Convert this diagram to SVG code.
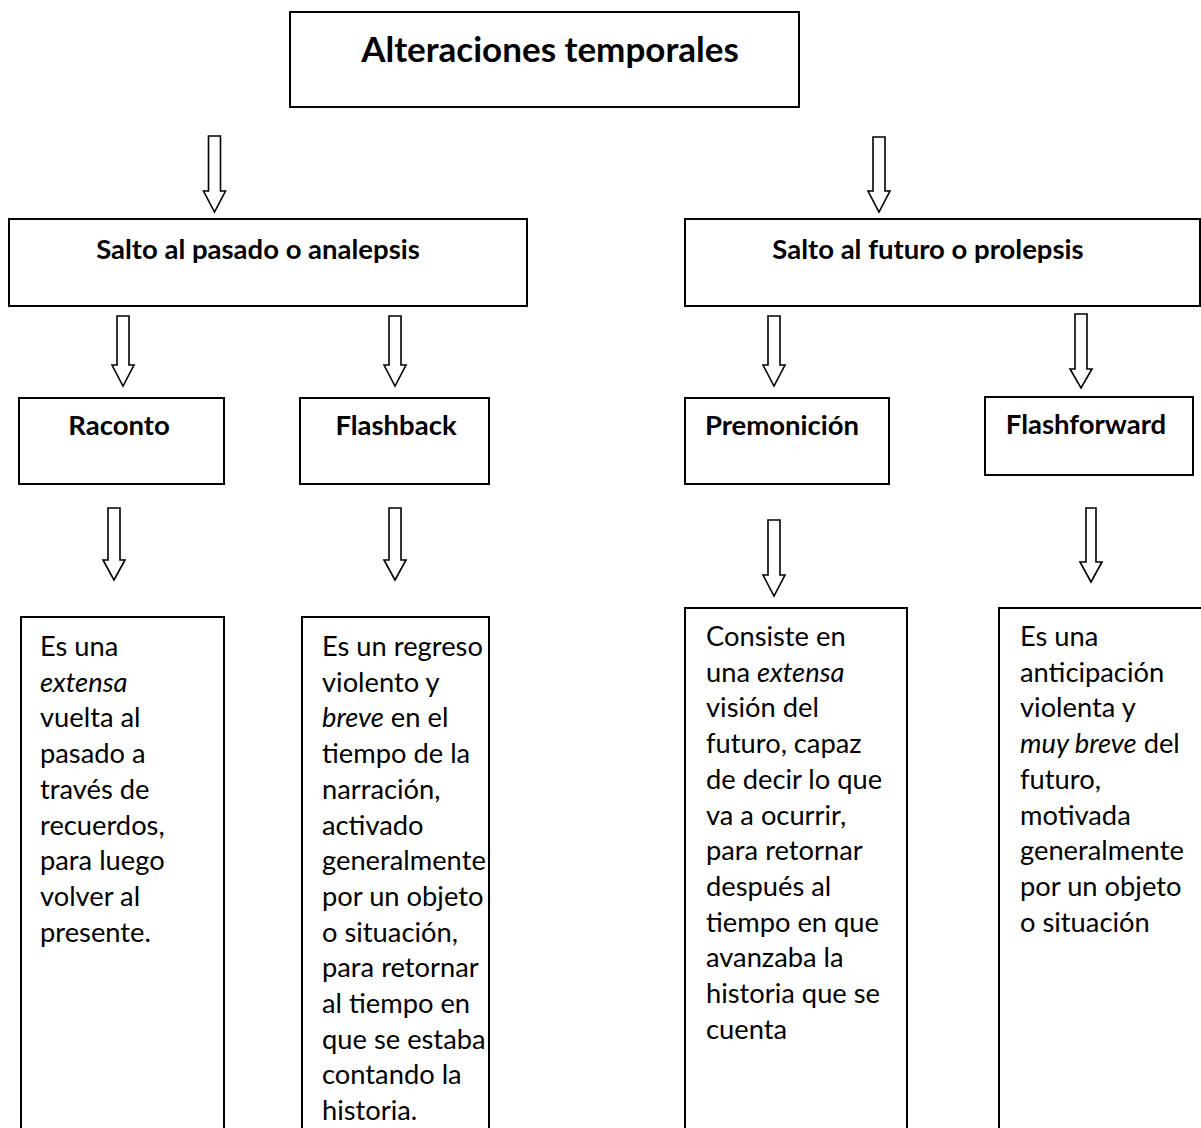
<svg xmlns="http://www.w3.org/2000/svg" width="1201" height="1128" viewBox="0 0 1201 1128">
<style>
.box{fill:#fff;stroke:#000;stroke-width:2}
.arr{fill:#fff;stroke:#000;stroke-width:1.6;stroke-linejoin:miter}
.t{font-family:Lato,"Open Sans",sans-serif;fill:#000}
.h1{font-size:35px;font-weight:bold;text-anchor:middle}
.h2{font-size:27.5px;font-weight:bold;text-anchor:middle}
.d{font-size:27.3px}
</style>
<rect width="1201" height="1128" fill="#fff"/>
<g id="connectors">
<polygon class="arr" points="208.5,136 220.5,136 220.5,191 225.5,191 214.5,212 203.5,191 208.5,191"/>
<polygon class="arr" points="873,137 885,137 885,191 890,191 879,212 868,191 873,191"/>
<polygon class="arr" points="117,316 129,316 129,365 134,365 123,386 112,365 117,365"/>
<polygon class="arr" points="389,316 401,316 401,365 406,365 395,386 384,365 389,365"/>
<polygon class="arr" points="768,316 780,316 780,365 785,365 774,386 763,365 768,365"/>
<polygon class="arr" points="1075,314 1087,314 1087,369 1092,369 1081,388 1070,369 1075,369"/>
<polygon class="arr" points="108,508 120,508 120,560 125,560 114,580 103,560 108,560"/>
<polygon class="arr" points="389,508 401,508 401,560 406,560 395,580 384,560 389,560"/>
<polygon class="arr" points="768,520 780,520 780,575 785,575 774,596 763,575 768,575"/>
<polygon class="arr" points="1086,508 1096,508 1096,562 1102,562 1091,582 1080,562 1086,562"/>
</g>
<g id="n-root">
<rect class="box" x="290" y="12" width="509" height="95"/>
<text class="t h1" x="550" y="62">Alteraciones temporales</text>
</g>
<g id="n-pasado">
<rect class="box" x="9" y="219" width="518" height="87"/>
<text class="t h2" x="258" y="259">Salto al pasado o analepsis</text>
</g>
<g id="n-futuro">
<rect class="box" x="685" y="219" width="515" height="87"/>
<text class="t h2" x="928" y="259">Salto al futuro o prolepsis</text>
</g>
<g id="n-raconto">
<rect class="box" x="19" y="398" width="205" height="86"/>
<text class="t h2" x="119" y="435">Raconto</text>
</g>
<g id="n-flashback">
<rect class="box" x="300" y="398" width="189" height="86"/>
<text class="t h2" x="396" y="435">Flashback</text>
</g>
<g id="n-premonicion">
<rect class="box" x="685" y="398" width="204" height="86"/>
<text class="t h2" x="782" y="435">Premonición</text>
</g>
<g id="n-flashforward">
<rect class="box" x="985" y="397" width="208" height="78"/>
<text class="t h2" x="1086" y="434">Flashforward</text>
</g>
<g id="n-raconto-desc">
<rect class="box" x="21" y="617" width="203" height="520"/>
<text class="t d">
<tspan x="40" y="656">Es una</tspan>
<tspan x="40" dy="35.7" font-style="italic">extensa</tspan>
<tspan x="40" dy="35.7">vuelta al</tspan>
<tspan x="40" dy="35.7">pasado a</tspan>
<tspan x="40" dy="35.7">través de</tspan>
<tspan x="40" dy="35.7">recuerdos,</tspan>
<tspan x="40" dy="35.7">para luego</tspan>
<tspan x="40" dy="35.7">volver al</tspan>
<tspan x="40" dy="35.7">presente.</tspan>
</text>
</g>
<g id="n-flashback-desc">
<rect class="box" x="302" y="617" width="187" height="520"/>
<text class="t d">
<tspan x="322" y="656">Es un regreso</tspan>
<tspan x="322" dy="35.7">violento y</tspan>
<tspan x="322" dy="35.7"><tspan font-style="italic">breve</tspan> en el</tspan>
<tspan x="322" dy="35.7">tiempo de la</tspan>
<tspan x="322" dy="35.7">narración,</tspan>
<tspan x="322" dy="35.7">activado</tspan>
<tspan x="322" dy="35.7">generalmente</tspan>
<tspan x="322" dy="35.7">por un objeto</tspan>
<tspan x="322" dy="35.7">o situación,</tspan>
<tspan x="322" dy="35.7">para retornar</tspan>
<tspan x="322" dy="35.7">al tiempo en</tspan>
<tspan x="322" dy="35.7">que se estaba</tspan>
<tspan x="322" dy="35.7">contando la</tspan>
<tspan x="322" dy="35.7">historia.</tspan>
</text>
</g>
<g id="n-premonicion-desc">
<rect class="box" x="685" y="608" width="222" height="530"/>
<text class="t d">
<tspan x="706" y="646">Consiste en</tspan>
<tspan x="706" dy="35.7">una <tspan font-style="italic">extensa</tspan></tspan>
<tspan x="706" dy="35.7">visión del</tspan>
<tspan x="706" dy="35.7">futuro, capaz</tspan>
<tspan x="706" dy="35.7">de decir lo que</tspan>
<tspan x="706" dy="35.7">va a ocurrir,</tspan>
<tspan x="706" dy="35.7">para retornar</tspan>
<tspan x="706" dy="35.7">después al</tspan>
<tspan x="706" dy="35.7">tiempo en que</tspan>
<tspan x="706" dy="35.7">avanzaba la</tspan>
<tspan x="706" dy="35.7">historia que se</tspan>
<tspan x="706" dy="35.7">cuenta</tspan>
</text>
</g>
<g id="n-flashforward-desc">
<rect class="box" x="999" y="608" width="220" height="530"/>
<text class="t d">
<tspan x="1020" y="646">Es una</tspan>
<tspan x="1020" dy="35.7">anticipación</tspan>
<tspan x="1020" dy="35.7">violenta y</tspan>
<tspan x="1020" dy="35.7"><tspan font-style="italic">muy breve</tspan> del</tspan>
<tspan x="1020" dy="35.7">futuro,</tspan>
<tspan x="1020" dy="35.7">motivada</tspan>
<tspan x="1020" dy="35.7">generalmente</tspan>
<tspan x="1020" dy="35.7">por un objeto</tspan>
<tspan x="1020" dy="35.7">o situación</tspan>
</text>
</g>
</svg>
